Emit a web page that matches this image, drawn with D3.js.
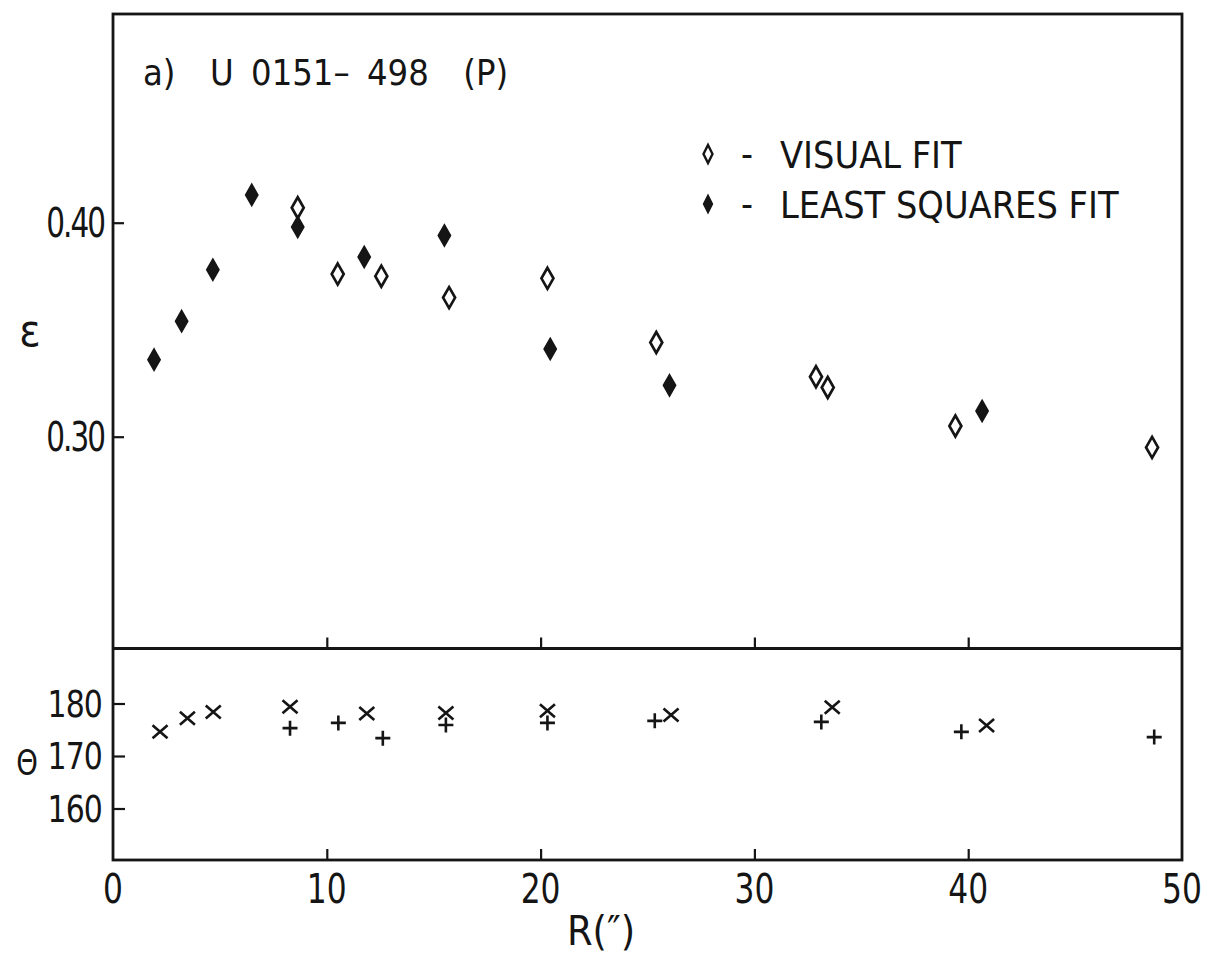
<!DOCTYPE html>
<html>
<head>
<meta charset="utf-8">
<script src="https://cdn.jsdelivr.net/npm/d3@7"></script>
<style>
  html, body { margin: 0; padding: 0; background: #ffffff; }
  svg { display: block; }
  text { fill: #151515; }
</style>
</head>
<body>
<svg id="chart" width="1209" height="968"></svg>
<script>
// ---- Data ----
const visualR   = [8.64, 10.51, 12.55, 15.72, 20.32, 25.41, 32.88, 33.43, 39.4, 48.6];
const visualEps = [0.407, 0.376, 0.375, 0.365, 0.374, 0.344, 0.328, 0.323, 0.305, 0.295];

const lsqR   = [1.92, 3.21, 4.67, 6.49, 8.64, 11.75, 15.5, 20.45, 26.03, 40.65];
const lsqEps = [0.336, 0.354, 0.378, 0.413, 0.398, 0.384, 0.394, 0.341, 0.324, 0.312];

const crossR     = [2.2, 3.48, 4.69, 8.28, 11.87, 15.57, 20.32, 26.1, 33.64, 40.86];
const crossTheta = [174.6, 177.2, 178.4, 179.4, 178.1, 178.2, 178.6, 177.8, 179.3, 175.8];

const plusR     = [8.28, 10.54, 12.62, 15.57, 20.32, 25.34, 33.13, 39.68, 48.7];
const plusTheta = [175.3, 176.3, 173.4, 175.9, 176.3, 176.7, 176.5, 174.6, 173.6];

const xTicks      = [0, 10, 20, 30, 40, 50];
const epsTicks    = [0.30, 0.40];
const epsLabels   = ["0.30", "0.40"];
const thetaTicks  = [160, 170, 180];

const titleText = "a)  U 0151– 498  (P)";
const legendLabels = ["VISUAL FIT", "LEAST SQUARES FIT"];

// ---- Layout ----
const svg = d3.select("#chart");
const INK = "#151515";
const plotLeft = 113, plotRight = 1182;
const plotTop = 14, plotDivider = 648.5, plotBottom = 860;

const x = d3.scaleLinear().domain([0, 50]).range([plotLeft, plotRight]);
const yEps = d3.scaleLinear().domain([0.2, 0.5]).range([650.7, 8.7]);
const yTh = d3.scaleLinear().domain([150, 190]).range([861, 651]);

const labelFont = "'Liberation Sans Narrow', 'DejaVu Sans Condensed', sans-serif";
const textFont = "'DejaVu Sans Condensed', 'Liberation Sans Narrow', sans-serif";

// ---- Frame ----
const frame = svg.append("g").attr("fill", "none").attr("stroke", INK).attr("stroke-width", 2.8);
frame.append("rect").attr("x", plotLeft).attr("y", plotTop)
  .attr("width", plotRight - plotLeft).attr("height", plotBottom - plotTop);
frame.append("line").attr("x1", plotLeft).attr("x2", plotRight)
  .attr("y1", plotDivider).attr("y2", plotDivider);

function styleAxis(g) {
  g.select(".domain").remove();
  g.selectAll(".tick line").attr("stroke", INK).attr("stroke-width", 2.2);
  g.selectAll(".tick text").remove();
}

// ---- Axes (inward ticks) ----
svg.append("g").attr("transform", `translate(${plotLeft},0)`)
  .call(d3.axisRight(yEps).tickValues(epsTicks).tickSize(11)).call(styleAxis);
svg.append("g").attr("transform", `translate(${plotLeft},0)`)
  .call(d3.axisRight(yTh).tickValues(thetaTicks).tickSize(12)).call(styleAxis);
svg.append("g").attr("transform", `translate(0,${plotDivider})`)
  .call(d3.axisTop(x).tickValues(xTicks.slice(1, -1)).tickSize(11)).call(styleAxis);
svg.append("g").attr("transform", `translate(0,${plotBottom})`)
  .call(d3.axisTop(x).tickValues(xTicks.slice(1, -1)).tickSize(11)).call(styleAxis);

// ---- Tick labels (narrow plotter-like lettering) ----
svg.append("g").selectAll("text").data(epsTicks).join("text")
  .attr("transform", d => `translate(104,${yEps(d) + 14}) scale(0.8,1)`)
  .attr("text-anchor", "end")
  .attr("font-family", labelFont).attr("font-size", 41)
  .attr("letter-spacing", -2.5)
  .text((d, i) => epsLabels[i]);

svg.append("g").selectAll("text").data(thetaTicks).join("text")
  .attr("transform", d => `translate(102,${yTh(d) + 13}) scale(0.9,1)`)
  .attr("text-anchor", "end")
  .attr("font-family", labelFont).attr("font-size", 37)
  .attr("letter-spacing", -1)
  .text(d => d);

svg.append("g").selectAll("text").data(xTicks).join("text")
  .attr("transform", d => `translate(${x(d)},903) scale(0.85,1)`)
  .attr("text-anchor", "middle")
  .attr("font-family", labelFont).attr("font-size", 41)
  .text(d => d);

// ---- Axis titles ----
svg.append("text").attr("x", 601).attr("y", 945).attr("text-anchor", "middle")
  .attr("font-family", labelFont).attr("font-size", 41).text("R(\u2033)");
svg.append("text").attr("x", 30).attr("y", 346).attr("text-anchor", "middle")
  .attr("font-family", labelFont).attr("font-size", 44).text("ε");
svg.append("text").attr("transform", "translate(27,775) scale(0.85,1)").attr("text-anchor", "middle")
  .attr("font-family", labelFont).attr("font-size", 36).text("Θ");

// ---- Title ----
svg.append("text").attr("x", 143).attr("y", 85)
  .attr("font-family", textFont).attr("font-size", 36)
  .attr("word-spacing", 7)
  .style("white-space", "pre")
  .text(titleText);

// ---- Markers ----
const diamond = (w, h) => `M0,${-h}L${w},0L0,${h}L${-w},0Z`;

const upper = svg.append("g");
upper.selectAll("path.vis").data(visualR.map((r, i) => [r, visualEps[i]])).join("path")
  .attr("class", "vis")
  .attr("transform", d => `translate(${x(d[0])},${yEps(d[1])})`)
  .attr("d", diamond(6, 10.5))
  .attr("fill", "#fff").attr("stroke", INK).attr("stroke-width", 2.7);
upper.selectAll("path.lsq").data(lsqR.map((r, i) => [r, lsqEps[i]])).join("path")
  .attr("class", "lsq")
  .attr("transform", d => `translate(${x(d[0])},${yEps(d[1])})`)
  .attr("d", diamond(6, 10.5))
  .attr("fill", INK).attr("stroke", INK).attr("stroke-width", 1.8);

const lower = svg.append("g").attr("fill", "none").attr("stroke", INK).attr("stroke-width", 2.6);
lower.selectAll("path.cross").data(crossR.map((r, i) => [r, crossTheta[i]])).join("path")
  .attr("class", "cross")
  .attr("transform", d => `translate(${x(d[0])},${yTh(d[1])})`)
  .attr("d", "M-7.5,-6.5L7.5,6.5M-7.5,6.5L7.5,-6.5");
lower.selectAll("path.plus").data(plusR.map((r, i) => [r, plusTheta[i]])).join("path")
  .attr("class", "plus")
  .attr("transform", d => `translate(${x(d[0])},${yTh(d[1])})`)
  .attr("d", "M-7.5,0L7.5,0M0,-7.5L0,7.5");

// ---- Legend ----
const legend = svg.append("g").attr("transform", "translate(708,154)");
const rowGap = 50;
legend.selectAll("path").data(legendLabels).join("path")
  .attr("transform", (d, i) => `translate(0,${i * rowGap})`)
  .attr("d", diamond(4.5, 9))
  .attr("fill", (d, i) => i === 0 ? "#fff" : INK)
  .attr("stroke", INK).attr("stroke-width", (d, i) => i === 0 ? 2.4 : 1.4);
legend.selectAll("text.dash").data(legendLabels).join("text")
  .attr("class", "dash")
  .attr("x", 39).attr("y", (d, i) => i * rowGap + 13)
  .attr("text-anchor", "middle")
  .attr("font-family", textFont).attr("font-size", 37).text("-");
legend.selectAll("text.lbl").data(legendLabels).join("text")
  .attr("class", "lbl")
  .attr("x", 72).attr("y", (d, i) => i * rowGap + 14)
  .attr("font-family", textFont).attr("font-size", 37.5)
  .text(d => d);
</script>
</body>
</html>
